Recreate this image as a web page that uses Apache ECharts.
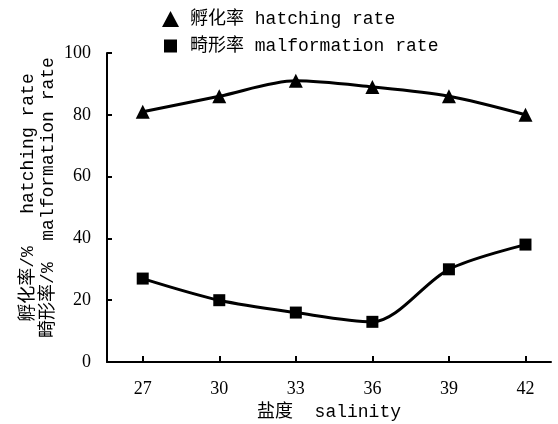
<!DOCTYPE html>
<html><head><meta charset="utf-8">
<script src="https://cdn.jsdelivr.net/npm/echarts@6/dist/echarts.min.js"></script>
<style>html,body{margin:0;padding:0;background:#fff}#c{width:558px;height:424px}</style>
</head><body><div id="c"></div>
<script>
const salinity = [27, 30, 33, 36, 39, 42];
const hatchingRate = [81, 86, 91, 89, 86, 80];
const malformationRate = [27, 20, 16, 13, 30, 38];
const yTicks = [0, 20, 40, 60, 80, 100];

const mono = '"Liberation Mono", "Noto Sans CJK SC", monospace';
const serif = '"Liberation Serif", serif';

const chart = echarts.init(document.getElementById('c'));
chart.setOption({
  animation: false,
  backgroundColor: '#fff',
  grid: { left: 107, right: 7, top: 53, bottom: 62, outerBoundsMode: 'none', containLabel: false },
  legend: {
    orient: 'vertical', left: 157, top: 5, itemGap: 9,
    itemWidth: 17, itemHeight: 16,
    textStyle: { fontFamily: mono, fontSize: 18, color: '#000', padding: [0, 0, 0, 6] },
    data: [
      { name: '孵化率 hatching rate', icon: 'triangle' },
      { name: '畸形率 malformation rate', icon: 'path://M0,0L0,0M2,1.5H15V14.5H2ZM17,16L17,16' }
    ]
  },
  xAxis: {
    type: 'value', min: 25.6, max: 43,
    name: '盐度  salinity', nameLocation: 'middle', nameGap: 41, nameMoveOverlap: false,
    nameTextStyle: { fontFamily: mono, fontSize: 18, color: '#000' },
    axisLine: { lineStyle: { color: '#000', width: 2 } },
    axisTick: { inside: true, length: 6, lineStyle: { color: '#000', width: 2 }, customValues: salinity },
    axisLabel: { fontFamily: serif, fontSize: 18, color: '#000', margin: 18, customValues: salinity },
    splitLine: { show: false }
  },
  yAxis: {
    type: 'value', min: 0, max: 100, interval: 20,
    name: '孵化率/%   hatching rate\n畸形率/%  malformation rate',
    nameLocation: 'middle', nameGap: 49, nameRotate: 90, nameMoveOverlap: false,
    nameTextStyle: { fontFamily: mono, fontSize: 18, color: '#000', lineHeight: 20, padding: [0, 0, 0, 20] },
    axisLine: { show: true, lineStyle: { color: '#000', width: 2 } },
    axisTick: { show: true, inside: true, length: 5, lineStyle: { color: '#000', width: 2 } },
    axisLabel: { fontFamily: serif, fontSize: 18, color: '#000', margin: 16 },
    splitLine: { show: false }
  },
  series: [
    {
      name: '孵化率 hatching rate', type: 'line', smooth: 0.3,
      data: salinity.map((s, i) => [s, hatchingRate[i]]),
      symbol: 'triangle', symbolSize: 14,
      lineStyle: { color: '#000', width: 3 },
      itemStyle: { color: '#000' }
    },
    {
      name: '畸形率 malformation rate', type: 'line', smooth: 0.3,
      data: salinity.map((s, i) => [s, malformationRate[i]]),
      symbol: 'rect', symbolSize: 12,
      lineStyle: { color: '#000', width: 3 },
      itemStyle: { color: '#000' }
    }
  ]
});
</script></body></html>
